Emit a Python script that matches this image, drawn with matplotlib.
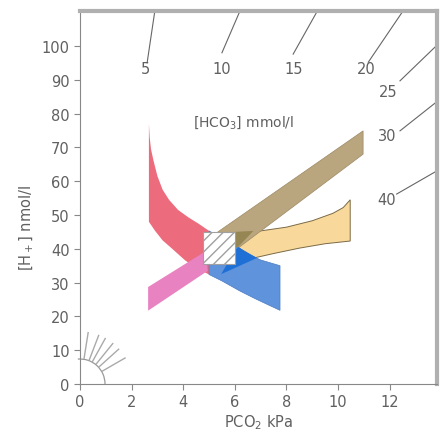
import matplotlib
matplotlib.use("Agg")
import matplotlib.pyplot as plt
import matplotlib.transforms as mtransforms
from matplotlib.patches import Polygon, Rectangle, Arc
import numpy as np

plt.rcParams['font.family'] = ['DejaVu Sans']

# HCO3 isopleths: label, segment start/end (PCO2 kPa, [H+] nmol/l), label position
hco3_values = [5, 10, 15, 20, 25, 30, 40]
iso_p0 = [2.6, 5.5, 8.26, 11.17, 12.4, 12.4, 12.27]
iso_h0 = [95.0, 98.0, 97.6, 95.2, 89.7, 74.9, 56.2]
iso_p1 = [2.9, 6.2, 9.2, 12.52, 13.84, 13.84, 13.84]
iso_h1 = [110.4, 110.4, 110.4, 110.4, 100.3, 83.6, 63.1]
iso_lab_p = [2.52, 5.5, 8.27, 11.1, 11.95, 11.9, 11.9]
iso_lab_h = [93.2, 93.2, 93.2, 93.2, 86.4, 73.4, 54.7]

# bands (PCO2 kPa, [H+] nmol/l)
red_p = [2.67, 2.67, 2.7, 2.75, 2.85, 3.0, 3.2, 3.45, 3.8, 4.2, 4.6, 5.0,
         5.0, 4.5, 4.07, 3.5, 3.2, 2.9]
red_h = [48.0, 77.0, 73.0, 69.5, 66.0, 61.5, 57.5, 54.5, 51.5, 49.3, 47.4, 45.3,
         32.4, 34.3, 36.6, 40.5, 42.5, 45.4]

blue_p = [5.0, 5.6, 6.13, 6.5, 7.0, 7.75, 7.75, 7.3, 6.8, 6.2, 5.5, 5.0]
blue_h = [45.3, 42.6, 40.5, 38.5, 36.7, 35.0, 21.8, 23.4, 25.2, 27.5, 30.5, 32.4]

dblue_p = [5.47, 6.0, 6.13, 6.86]
dblue_h = [32.5, 39.5, 40.5, 37.3]

pink_p = [2.64, 2.64, 4.85, 4.95]
pink_h = [21.7, 28.7, 39.2, 33.5]

brown_p = [5.34, 10.97, 10.97, 6.0]
brown_h = [45.0, 74.9, 68.0, 39.5]

yellow_p = [6.0, 7.0, 8.0, 9.0, 9.8, 10.2, 10.47, 10.47, 9.5, 8.5, 7.5, 6.86, 6.0]
yellow_h = [45.0, 45.3, 46.4, 48.3, 50.5, 52.2, 54.5, 42.3, 41.5, 40.2, 38.6, 37.5, 36.0]

olive_p = [6.0, 6.72, 6.13, 6.0]
olive_h = [45.0, 45.3, 40.6, 40.2]

# normal range box
normal_p = (4.75, 6.0)
normal_h = (35.5, 45.0)

# little fan near the origin (angles in degrees)
fan_angles = [30, 42, 51, 61, 69, 81]

fig = plt.figure(figsize=(4.47, 4.39), dpi=100)
ax = fig.add_axes([0.179, 0.123, 0.799, 0.850])
ax.set_xlim(0, 13.84)
ax.set_ylim(0, 110.4)


def band(p, h, fc, ec=None, lw=0.0, z=2):
    ax.add_patch(Polygon(np.column_stack([p, h]), closed=True, facecolor=fc,
                         edgecolor=ec if ec else fc, linewidth=lw, zorder=z))


band(yellow_p, yellow_h, '#f9d99b', '#7a6a45', 0.7, 2)
band(brown_p, brown_h, '#b9a57e', '#9c8a66', 0.5, 3)
band(olive_p, olive_h, '#968654', z=4)
band(red_p, red_h, '#ec6b7c', z=3)
band(blue_p, blue_h, '#5f93dc', '#4a7cc0', 0.5, 3)
band(dblue_p, dblue_h, '#1e70d6', z=4)
band(pink_p, pink_h, '#e882c0', z=4)

plt.rcParams['hatch.linewidth'] = 1.0
ax.add_patch(Rectangle((normal_p[0], normal_h[0]), normal_p[1] - normal_p[0],
                       normal_h[1] - normal_h[0], facecolor='white',
                       edgecolor='#a0a0a0', hatch='///', linewidth=0.8, zorder=5))

for v, p0, h0, p1, h1, lp, lh in zip(hco3_values, iso_p0, iso_h0, iso_p1, iso_h1,
                                      iso_lab_p, iso_lab_h):
    ax.plot([p0, p1], [h0, h1], color='#666666', lw=0.8, zorder=1, clip_on=False)
    ax.text(lp, lh, str(v), ha='center', va='center', fontsize=10.5, color='#606060')

ax.text(6.33, 77.5, '[HCO$_3$] mmol/l', ha='center', va='center', fontsize=10,
        color='#606060')

# fan drawn in inches around the data origin
trans = fig.dpi_scale_trans + mtransforms.ScaledTranslation(0, 0, ax.transData)
ax.add_patch(Arc((0, 0), 0.5, 0.5, theta1=0, theta2=95, transform=trans,
                 color='#999999', lw=0.9, clip_on=False))
for a in fan_angles:
    t = np.deg2rad(a)
    ax.plot([0.26 * np.cos(t), 0.52 * np.cos(t)], [0.26 * np.sin(t), 0.52 * np.sin(t)],
            transform=trans, color='#aaaaaa', lw=1.0, clip_on=False)

ax.set_xticks(range(0, 13, 2))
ax.set_yticks(range(0, 101, 10))
ax.tick_params(colors='#888888', labelcolor='#606060', labelsize=10.5, length=4,
               width=0.8)
for s in ['left', 'bottom']:
    ax.spines[s].set_color('#888888')
    ax.spines[s].set_linewidth(0.8)
for s in ['top', 'right']:
    ax.spines[s].set_color('#b0b0b0')
    ax.spines[s].set_linewidth(3)

ax.set_xlabel('PCO$_2$ kPa', fontsize=10.5, color='#606060', labelpad=2)
ax.set_ylabel('[H$_+$] nmol/l', fontsize=10.5, color='#606060', y=0.42, labelpad=4)

fig.savefig('out.png', dpi=100)
